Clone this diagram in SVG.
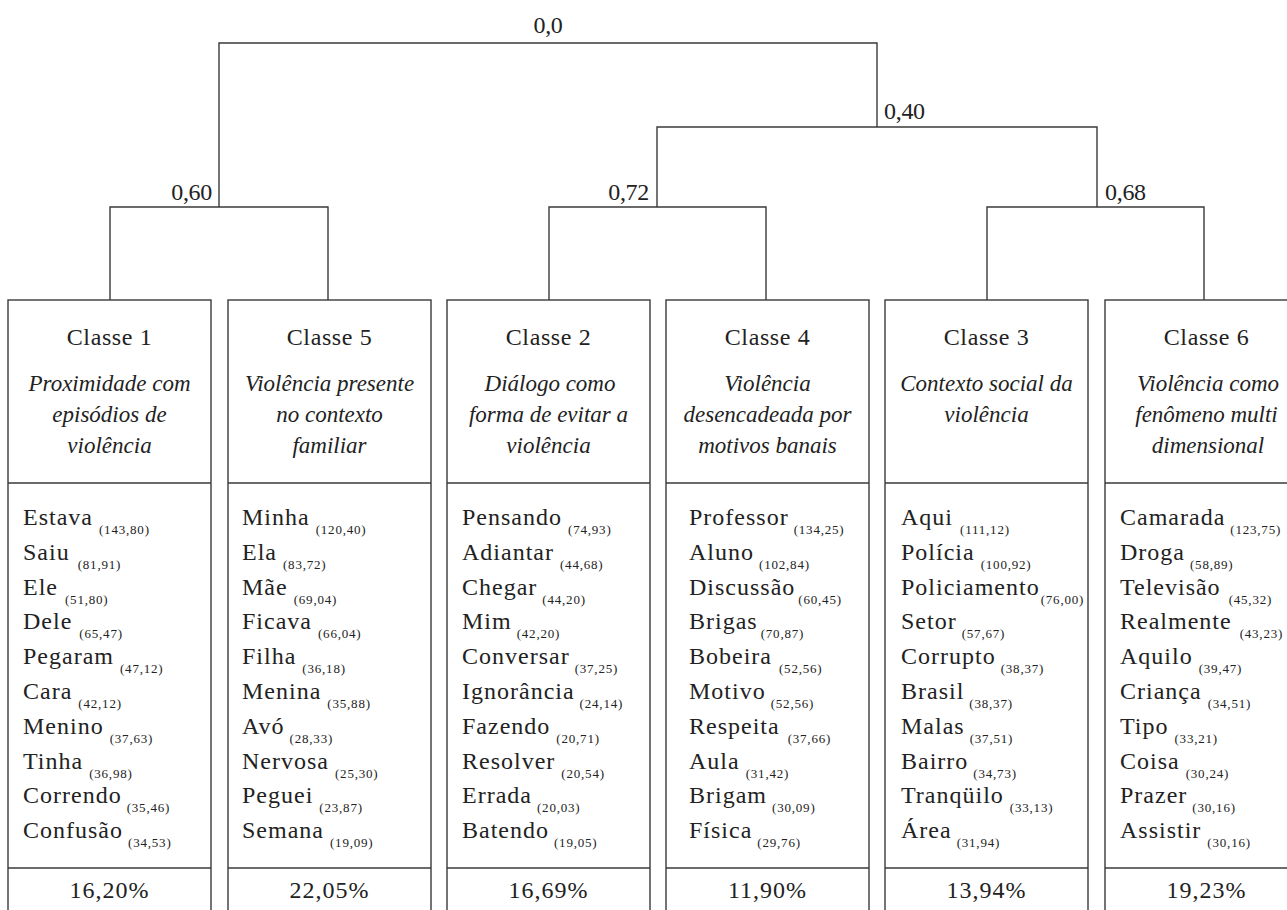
<svg xmlns="http://www.w3.org/2000/svg" width="1287" height="910" viewBox="0 0 1287 910" font-family="'Liberation Serif', 'Times New Roman', Times, serif">
<style>
  .bg{fill:#ffffff}
  .box{fill:none;stroke:#3a3a3a;stroke-width:1.4}
  .sep{stroke:#3a3a3a;stroke-width:1.4}
  .conn{fill:none;stroke:#3a3a3a;stroke-width:1.4}
  text{fill:#222222}
  .lvl{font-size:24px;letter-spacing:-0.3px}
  .cls{font-size:24px;letter-spacing:0.6px;text-anchor:middle}
  .ttl{font-size:23px;font-style:italic;text-anchor:middle}
  .w{font-size:24px;letter-spacing:1px}
  .s{font-size:13px;letter-spacing:0.8px}
  .pct{font-size:24px;letter-spacing:1px;text-anchor:middle}
</style>
<rect class="bg" x="0" y="0" width="1287" height="910"/>

<g id="connectors">
  <path class="conn" d="M219,207 V43 H877 V127"/>
  <path class="conn" d="M110,300 V207 H328 V300"/>
  <path class="conn" d="M657,207 V127 H1097 V207"/>
  <path class="conn" d="M549,300 V207 H766 V300"/>
  <path class="conn" d="M987,300 V207 H1204 V300"/>
  <text class="lvl" x="548" y="33" text-anchor="middle">0,0</text>
  <text class="lvl" x="212" y="200" text-anchor="end">0,60</text>
  <text class="lvl" x="884" y="119">0,40</text>
  <text class="lvl" x="649" y="200" text-anchor="end">0,72</text>
  <text class="lvl" x="1105" y="200">0,68</text>
</g>

<g id="classe1">
  <rect class="box" x="8" y="300" width="203" height="620"/>
  <line class="sep" x1="8" y1="483" x2="211" y2="483"/>
  <line class="sep" x1="8" y1="868" x2="211" y2="868"/>
  <text class="cls" x="109.5" y="345">Classe 1</text>
  <text class="ttl" x="109.5" y="391">Proximidade com</text>
  <text class="ttl" x="109.5" y="422">episódios de</text>
  <text class="ttl" x="109.5" y="453">violência</text>
  <text class="w" x="23" y="525">Estava<tspan class="s" dx="6" dy="9">(143,80)</tspan></text>
  <text class="w" x="23" y="560">Saiu<tspan class="s" dx="8" dy="9">(81,91)</tspan></text>
  <text class="w" x="23" y="595">Ele<tspan class="s" dx="7" dy="9">(51,80)</tspan></text>
  <text class="w" x="23" y="629">Dele<tspan class="s" dx="7" dy="9">(65,47)</tspan></text>
  <text class="w" x="23" y="664">Pegaram<tspan class="s" dx="6" dy="9">(47,12)</tspan></text>
  <text class="w" x="23" y="699">Cara<tspan class="s" dx="6" dy="9">(42,12)</tspan></text>
  <text class="w" x="23" y="734">Menino<tspan class="s" dx="6" dy="9">(37,63)</tspan></text>
  <text class="w" x="23" y="769">Tinha<tspan class="s" dx="6" dy="9">(36,98)</tspan></text>
  <text class="w" x="23" y="803">Correndo<tspan class="s" dx="5" dy="9">(35,46)</tspan></text>
  <text class="w" x="23" y="838">Confusão<tspan class="s" dx="5" dy="9">(34,53)</tspan></text>
  <text class="pct" x="109.5" y="898">16,20%</text>
</g>

<g id="classe5">
  <rect class="box" x="228" y="300" width="203" height="620"/>
  <line class="sep" x1="228" y1="483" x2="431" y2="483"/>
  <line class="sep" x1="228" y1="868" x2="431" y2="868"/>
  <text class="cls" x="329.5" y="345">Classe 5</text>
  <text class="ttl" x="329.5" y="391">Violência presente</text>
  <text class="ttl" x="329.5" y="422">no contexto</text>
  <text class="ttl" x="329.5" y="453">familiar</text>
  <text class="w" x="242" y="525">Minha<tspan class="s" dx="6" dy="9">(120,40)</tspan></text>
  <text class="w" x="242" y="560">Ela<tspan class="s" dx="6" dy="9">(83,72)</tspan></text>
  <text class="w" x="242" y="595">Mãe<tspan class="s" dx="6" dy="9">(69,04)</tspan></text>
  <text class="w" x="242" y="629">Ficava<tspan class="s" dx="6" dy="9">(66,04)</tspan></text>
  <text class="w" x="242" y="664">Filha<tspan class="s" dx="6" dy="9">(36,18)</tspan></text>
  <text class="w" x="242" y="699">Menina<tspan class="s" dx="6" dy="9">(35,88)</tspan></text>
  <text class="w" x="242" y="734">Avó<tspan class="s" dx="5" dy="9">(28,33)</tspan></text>
  <text class="w" x="242" y="769">Nervosa<tspan class="s" dx="6" dy="9">(25,30)</tspan></text>
  <text class="w" x="242" y="803">Peguei<tspan class="s" dx="6" dy="9">(23,87)</tspan></text>
  <text class="w" x="242" y="838">Semana<tspan class="s" dx="6" dy="9">(19,09)</tspan></text>
  <text class="pct" x="329.5" y="898">22,05%</text>
</g>

<g id="classe2">
  <rect class="box" x="447" y="300" width="203" height="620"/>
  <line class="sep" x1="447" y1="483" x2="650" y2="483"/>
  <line class="sep" x1="447" y1="868" x2="650" y2="868"/>
  <text class="cls" x="548.5" y="345">Classe 2</text>
  <text class="ttl" x="550" y="391">Diálogo como</text>
  <text class="ttl" x="548.5" y="422">forma de evitar a</text>
  <text class="ttl" x="548.5" y="453">violência</text>
  <text class="w" x="462" y="525">Pensando<tspan class="s" dx="6" dy="9">(74,93)</tspan></text>
  <text class="w" x="462" y="560">Adiantar<tspan class="s" dx="6" dy="9">(44,68)</tspan></text>
  <text class="w" x="462" y="595">Chegar<tspan class="s" dx="5" dy="9">(44,20)</tspan></text>
  <text class="w" x="462" y="629">Mim<tspan class="s" dx="5" dy="9">(42,20)</tspan></text>
  <text class="w" x="462" y="664">Conversar<tspan class="s" dx="5" dy="9">(37,25)</tspan></text>
  <text class="w" x="462" y="699">Ignorância<tspan class="s" dx="5" dy="9">(24,14)</tspan></text>
  <text class="w" x="462" y="734">Fazendo<tspan class="s" dx="6" dy="9">(20,71)</tspan></text>
  <text class="w" x="462" y="769">Resolver<tspan class="s" dx="6" dy="9">(20,54)</tspan></text>
  <text class="w" x="462" y="803">Errada<tspan class="s" dx="5" dy="9">(20,03)</tspan></text>
  <text class="w" x="462" y="838">Batendo<tspan class="s" dx="5" dy="9">(19,05)</tspan></text>
  <text class="pct" x="548.5" y="898">16,69%</text>
</g>

<g id="classe4">
  <rect class="box" x="666" y="300" width="203" height="620"/>
  <line class="sep" x1="666" y1="483" x2="869" y2="483"/>
  <line class="sep" x1="666" y1="868" x2="869" y2="868"/>
  <text class="cls" x="767.5" y="345">Classe 4</text>
  <text class="ttl" x="767.5" y="391">Violência</text>
  <text class="ttl" x="767.5" y="422">desencadeada por</text>
  <text class="ttl" x="767.5" y="453">motivos banais</text>
  <text class="w" x="689" y="525">Professor<tspan class="s" dx="5" dy="9">(134,25)</tspan></text>
  <text class="w" x="689" y="560">Aluno<tspan class="s" dx="5" dy="9">(102,84)</tspan></text>
  <text class="w" x="689" y="595">Discussão<tspan class="s" dx="3" dy="9">(60,45)</tspan></text>
  <text class="w" x="689" y="629">Brigas<tspan class="s" dx="3" dy="9">(70,87)</tspan></text>
  <text class="w" x="689" y="664">Bobeira<tspan class="s" dx="7" dy="9">(52,56)</tspan></text>
  <text class="w" x="689" y="699">Motivo<tspan class="s" dx="5" dy="9">(52,56)</tspan></text>
  <text class="w" x="689" y="734">Respeita<tspan class="s" dx="8" dy="9">(37,66)</tspan></text>
  <text class="w" x="689" y="769">Aula<tspan class="s" dx="6" dy="9">(31,42)</tspan></text>
  <text class="w" x="689" y="803">Brigam<tspan class="s" dx="5" dy="9">(30,09)</tspan></text>
  <text class="w" x="689" y="838">Física<tspan class="s" dx="5" dy="9">(29,76)</tspan></text>
  <text class="pct" x="767.5" y="898">11,90%</text>
</g>

<g id="classe3">
  <rect class="box" x="885" y="300" width="203" height="620"/>
  <line class="sep" x1="885" y1="483" x2="1088" y2="483"/>
  <line class="sep" x1="885" y1="868" x2="1088" y2="868"/>
  <text class="cls" x="986.5" y="345">Classe 3</text>
  <text class="ttl" x="986.5" y="391">Contexto social da</text>
  <text class="ttl" x="986.5" y="422">violência</text>
  <text class="w" x="901" y="525">Aqui<tspan class="s" dx="7" dy="9">(111,12)</tspan></text>
  <text class="w" x="901" y="560">Polícia<tspan class="s" dx="6" dy="9">(100,92)</tspan></text>
  <text class="w" x="901" y="595">Policiamento<tspan class="s" dx="1" dy="9">(76,00)</tspan></text>
  <text class="w" x="901" y="629">Setor<tspan class="s" dx="5" dy="9">(57,67)</tspan></text>
  <text class="w" x="901" y="664">Corrupto<tspan class="s" dx="5" dy="9">(38,37)</tspan></text>
  <text class="w" x="901" y="699">Brasil<tspan class="s" dx="5" dy="9">(38,37)</tspan></text>
  <text class="w" x="901" y="734">Malas<tspan class="s" dx="5" dy="9">(37,51)</tspan></text>
  <text class="w" x="901" y="769">Bairro<tspan class="s" dx="5" dy="9">(34,73)</tspan></text>
  <text class="w" x="901" y="803">Tranqüilo<tspan class="s" dx="6" dy="9">(33,13)</tspan></text>
  <text class="w" x="901" y="838">Área<tspan class="s" dx="5" dy="9">(31,94)</tspan></text>
  <text class="pct" x="986.5" y="898">13,94%</text>
</g>

<g id="classe6">
  <rect class="box" x="1105" y="300" width="203" height="620"/>
  <line class="sep" x1="1105" y1="483" x2="1308" y2="483"/>
  <line class="sep" x1="1105" y1="868" x2="1308" y2="868"/>
  <text class="cls" x="1206.5" y="345">Classe 6</text>
  <text class="ttl" x="1208" y="391">Violência como</text>
  <text class="ttl" x="1206.5" y="422">fenômeno multi</text>
  <text class="ttl" x="1208" y="453">dimensional</text>
  <text class="w" x="1120" y="525">Camarada<tspan class="s" dx="5" dy="9">(123,75)</tspan></text>
  <text class="w" x="1120" y="560">Droga<tspan class="s" dx="5" dy="9">(58,89)</tspan></text>
  <text class="w" x="1120" y="595">Televisão<tspan class="s" dx="8" dy="9">(45,32)</tspan></text>
  <text class="w" x="1120" y="629">Realmente<tspan class="s" dx="8" dy="9">(43,23)</tspan></text>
  <text class="w" x="1120" y="664">Aquilo<tspan class="s" dx="6" dy="9">(39,47)</tspan></text>
  <text class="w" x="1120" y="699">Criança<tspan class="s" dx="6" dy="9">(34,51)</tspan></text>
  <text class="w" x="1120" y="734">Tipo<tspan class="s" dx="6" dy="9">(33,21)</tspan></text>
  <text class="w" x="1120" y="769">Coisa<tspan class="s" dx="6" dy="9">(30,24)</tspan></text>
  <text class="w" x="1120" y="803">Prazer<tspan class="s" dx="5" dy="9">(30,16)</tspan></text>
  <text class="w" x="1120" y="838">Assistir<tspan class="s" dx="6" dy="9">(30,16)</tspan></text>
  <text class="pct" x="1206.5" y="898">19,23%</text>
</g>
</svg>
